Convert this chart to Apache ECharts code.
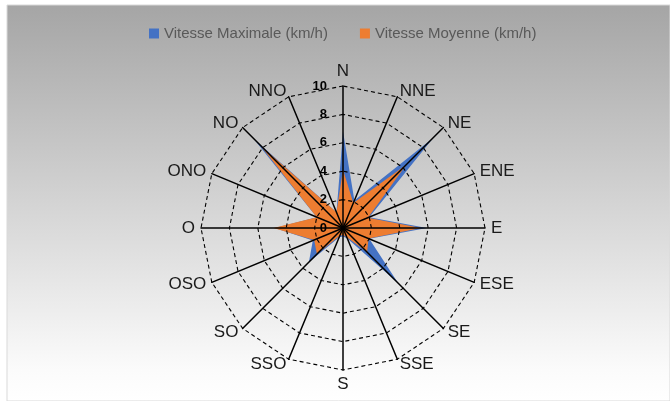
<!DOCTYPE html>
<html>
<head>
<meta charset="utf-8">
<script src="https://cdn.jsdelivr.net/npm/echarts@6/dist/echarts.min.js"></script>
<style>
html,body{margin:0;padding:0;background:#fff;}
#chart{width:670px;height:401px;}
</style>
</head>
<body>
<div id="chart"></div>
<script>
// Directions, clockwise from North
const categories = ['N','NNE','NE','ENE','E','ESE','SE','SSE','S','SSO','SO','OSO','O','ONO','NO','NNO'];
const vitesseMax = [6.8, 2.1, 9.0, 2.0, 5.9, 2.0, 5.5, 0.8, 0.6, 0.7, 3.4, 2.3, 4.8, 2.0, 8.9, 1.2];
const vitesseMoy = [4.1, 1.9, 6.3, 1.9, 5.5, 1.95, 2.4, 0.7, 0.5, 0.6, 2.6, 2.2, 4.9, 2.0, 8.2, 1.2];
const seriesNames = ['Vitesse Maximale (km/h)', 'Vitesse Moyenne (km/h)'];
const axisMax = 10;

// ECharts radar goes counter-clockwise: reorder
const order = [0].concat(categories.slice(1).map((_, i) => categories.length - 1 - i));
const indicators = order.map((idx, k) => {
  const ind = { name: categories[idx], min: 0, max: axisMax };
  if (k === 0) {
    ind.axisLabel = { show: true, color: '#000', fontWeight: 'bold', fontSize: 13,
      fontFamily: 'Liberation Sans', margin: 16 };
  }
  return ind;
});
const ord = arr => order.map(i => arr[i]);

const chart = echarts.init(document.getElementById('chart'));
chart.setOption({
  animation: false,
  graphic: [{
    type: 'rect', z: -100, silent: true,
    shape: { x: 7, y: 5, width: 663, height: 396 },
    style: {
      fill: new echarts.graphic.LinearGradient(0, 0, 0, 1, [
        { offset: 0, color: '#a5a5a5' },
        { offset: 0.92, color: '#fbfbfb' },
        { offset: 1, color: '#ffffff' }
      ]),
      stroke: '#d9d9d9', lineWidth: 1
    }
  }],
  legend: {
    top: 21, left: 144,
    icon: 'rect', itemWidth: 10, itemHeight: 10, itemGap: 32,
    textStyle: { color: '#595959', fontSize: 15, fontFamily: 'Liberation Sans' },
    data: seriesNames
  },
  radar: {
    z: 3,
    center: [343, 228],
    radius: 142,
    shape: 'polygon',
    splitNumber: 5,
    nameGap: 6,
    axisName: { color: '#1a1a1a', fontSize: 17, fontFamily: 'Liberation Sans' },
    splitLine: { lineStyle: { color: '#000', width: 1.1, type: [4, 3] } },
    splitArea: { show: false },
    axisLine: { lineStyle: { color: '#000', width: 1.5 } },
    axisTick: { show: false },
    axisLabel: { show: false },
    indicator: indicators
  },
  series: [{
    type: 'radar',
    symbol: 'none',
    data: [
      { name: seriesNames[0], value: ord(vitesseMax),
        itemStyle: { color: '#4472C4' }, lineStyle: { width: 0, color: '#4472C4' },
        areaStyle: { color: '#4472C4', opacity: 1 } },
      { name: seriesNames[1], value: ord(vitesseMoy),
        itemStyle: { color: '#ED7D31' }, lineStyle: { width: 0, color: '#ED7D31' },
        areaStyle: { color: '#ED7D31', opacity: 1 } }
    ]
  }]
});
</script>
</body>
</html>
